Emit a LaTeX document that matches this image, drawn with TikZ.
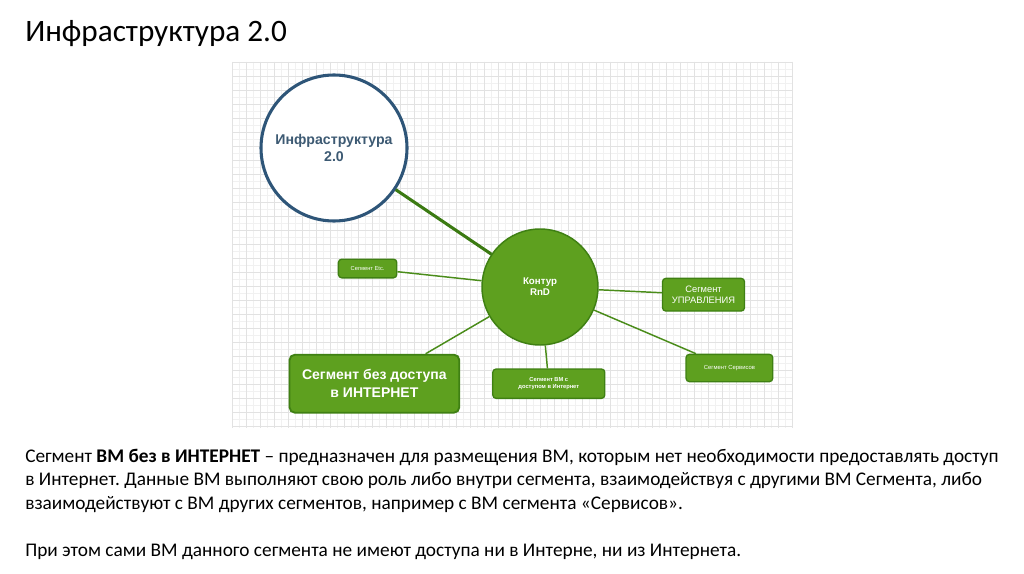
\documentclass[tikz,border=0pt]{standalone}
\usepackage{fontspec}
\setmainfont{Carlito}
\newfontfamily\arial{Liberation Sans}
\frenchspacing
\definecolor{gfill}{HTML}{5EA01F}
\definecolor{gborder}{HTML}{3F8013}
\definecolor{gline}{HTML}{4A8C1A}
\definecolor{gthick}{HTML}{3B7A12}
\definecolor{navy}{HTML}{2E5578}
\definecolor{navytext}{HTML}{3D5A73}
\definecolor{gridmaj}{HTML}{E2E2E2}
\definecolor{gridmin}{HTML}{F1F1F1}
\begin{document}
\begin{tikzpicture}[x=0.75pt,y=-0.75pt,
  segbox/.style={rectangle, rounded corners=2.5pt, fill=gfill, draw=gborder, line width=1pt, text=white, inner sep=0pt, align=center},
  link/.style={gline, line width=1.1pt},
  thicklink/.style={gthick, line width=2.3pt},
  bodytext/.style={anchor=base west, inner sep=0pt, font=\fontsize{14.48}{17}\selectfont}
]
\useasboundingbox[fill=white] (0,0) rectangle (1024,574);
% grid
\foreach \i in {0,...,79} {\draw[gridmin, line width=0.4pt] ({239+\i*7},62) -- ({239+\i*7},428);}
\foreach \j in {0,...,51} {\draw[gridmin, line width=0.4pt] (232,{69+\j*7}) -- (792,{69+\j*7});}
\foreach \i in {0,...,40} {\draw[gridmaj, line width=0.5pt] ({232+\i*14},62) -- ({232+\i*14},428);}
\foreach \j in {0,...,26} {\draw[gridmaj, line width=0.5pt] (232,{62+\j*14}) -- (792,{62+\j*14});}

% title
\node[anchor=base west, inner sep=0pt, font=\fontsize{23.4}{28}\selectfont] (title) at (25,42) {Инфраструктура 2.0};

% nodes
\node[circle, draw=navy, line width=2.3pt, fill=white, minimum size=109.5pt, inner sep=0pt, align=center, text=navytext, font=\arial\bfseries\fontsize{10.6}{12.75}\selectfont] (infra) at (334,148) {Инфраструктура\\2.0};
\node[circle, draw=gborder, line width=1.1pt, fill=gfill, minimum size=87pt, inner sep=0pt, align=center, text=white, font=\arial\bfseries\fontsize{7.3}{8.25}\selectfont] (rnd) at (540,287) {Контур\\RnD};

\node[segbox, minimum width=43.8pt, minimum height=14pt, font=\arial\fontsize{4.3}{5}\selectfont] (etc) at (367.6,268.5) {Сегмент Etc.};
\node[segbox, minimum width=61.5pt, minimum height=24.5pt, font=\arial\fontsize{7}{8}\selectfont] (upr) at (703.5,294.7) {Сегмент\\УПРАВЛЕНИЯ};
\node[segbox, minimum width=65pt, minimum height=20.5pt, font=\arial\fontsize{4.4}{5}\selectfont] (serv) at (729.4,368) {Сегмент Сервисов};
\node[segbox, minimum width=84pt, minimum height=22pt, font=\arial\bfseries\fontsize{4.3}{5.8}\selectfont] (vm) at (548.8,383.7) {Сегмент ВМ с\\доступом в Интернет};
\node[segbox, line width=1.4pt, rounded corners=4pt, minimum width=127.3pt, minimum height=43.5pt, font=\arial\bfseries\fontsize{10.5}{13.3}\selectfont] (nodost) at (374.4,383.7) {Сегмент без доступа\\в ИНТЕРНЕТ};

% connectors
\draw[thicklink] (infra) -- (rnd);
\draw[link] (rnd) -- (etc);
\draw[link] (rnd) -- (upr);
\draw[link] (rnd) -- (serv);
\draw[link] (rnd) -- (vm);
\draw[link] (rnd) -- (nodost);

% body text
\node[bodytext] (b1) at (25,462) {Сегмент \textbf{ВМ без в ИНТЕРНЕТ} – предназначен для размещения ВМ, которым нет необходимости предоставлять доступ};
\node[bodytext] (b2) at (25,485.6) {в Интернет. Данные ВМ выполняют свою роль либо внутри сегмента, взаимодействуя с другими ВМ Сегмента, либо};
\node[bodytext] (b3) at (25,509.2) {взаимодействуют с ВМ других сегментов, например с ВМ сегмента «Сервисов».};
\node[bodytext] (b4) at (25,556.4) {При этом сами ВМ данного сегмента не имеют доступа ни в Интерне, ни из Интернета.};
\end{tikzpicture}
\end{document}
